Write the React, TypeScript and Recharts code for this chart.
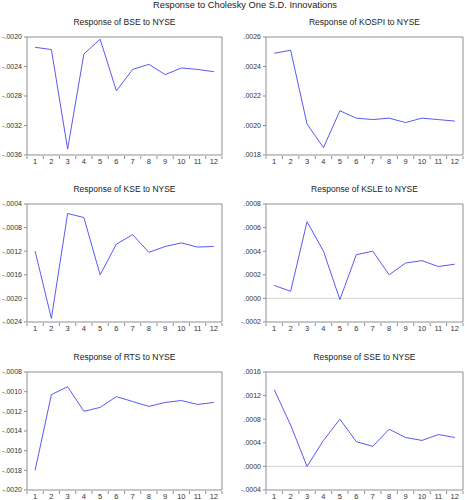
import React from "react";
import { LineChart, Line, XAxis, YAxis, ReferenceLine } from "recharts";

const periods = [1, 2, 3, 4, 5, 6, 7, 8, 9, 10, 11, 12];
const boundaryTicks = [0.5, 1.5, 2.5, 3.5, 4.5, 5.5, 6.5, 7.5, 8.5, 9.5, 10.5, 11.5, 12.5];

const bse = [-0.00214, -0.00217, -0.00352, -0.00223, -0.00203, -0.00273, -0.00244, -0.00237, -0.00251, -0.00242, -0.00244, -0.00247];
const kospi = [0.00249, 0.00251, 0.00201, 0.00185, 0.0021, 0.00205, 0.00204, 0.00205, 0.00202, 0.00205, 0.00204, 0.00203];
const kse = [-0.0012, -0.00234, -0.00056, -0.00063, -0.0016, -0.00108, -0.00092, -0.00122, -0.00112, -0.00106, -0.00113, -0.00112];
const ksle = [0.00011, 0.00006, 0.00065, 0.0004, -0.00001, 0.00037, 0.0004, 0.0002, 0.0003, 0.00032, 0.00027, 0.00029];
const rts = [-0.0018, -0.00103, -0.00095, -0.0012, -0.00116, -0.00105, -0.0011, -0.00115, -0.00111, -0.00109, -0.00113, -0.00111];
const sse = [0.0013, 0.0007, 0.0, 0.00044, 0.0008, 0.00042, 0.00034, 0.00063, 0.00049, 0.00044, 0.00054, 0.00049];

const bseTicks = [-0.0036, -0.0032, -0.0028, -0.0024, -0.002];
const kospiTicks = [0.0018, 0.002, 0.0022, 0.0024, 0.0026];
const kseTicks = [-0.0024, -0.002, -0.0016, -0.0012, -0.0008, -0.0004];
const ksleTicks = [-0.0002, 0.0, 0.0002, 0.0004, 0.0006, 0.0008];
const rtsTicks = [-0.002, -0.0018, -0.0016, -0.0014, -0.0012, -0.001, -0.0008];
const sseTicks = [-0.0004, 0.0, 0.0004, 0.0008, 0.0012, 0.0016];

const panels = [
  { title: "Response of BSE to NYSE", values: bse, ticks: bseTicks, col: 0, row: 0 },
  { title: "Response of KOSPI to NYSE", values: kospi, ticks: kospiTicks, col: 1, row: 0 },
  { title: "Response of KSE to NYSE", values: kse, ticks: kseTicks, col: 0, row: 1 },
  { title: "Response of KSLE to NYSE", values: ksle, ticks: ksleTicks, col: 1, row: 1 },
  { title: "Response of RTS to NYSE", values: rts, ticks: rtsTicks, col: 0, row: 2 },
  { title: "Response of SSE to NYSE", values: sse, ticks: sseTicks, col: 1, row: 2 },
];

// layout (page pixels); axes take 1px each, margins make up the rest
const cols = [
  { x: 0, w: 232, left: 27, right: 10 },
  { x: 232, w: 233, left: 34, right: 2 },
];
const rowTops = [37, 204, 372];
const PLOT_H = 118;
const TOP_M = 30;
const BOT_M = 14;

const AXIS = "#8f8f8f";
const LINE = "#5a5af5";
const FONT = "'Liberation Sans', Arial, sans-serif";

const fmt = (v: number) => v.toFixed(4).replace(/^(-?)0\./, "$1.");

function Panel({ p }: { p: (typeof panels)[number] }) {
  const c = cols[p.col];
  const top = rowTops[p.row] - TOP_M;
  const data = periods.map((period, i) => ({ period, value: p.values[i] }));
  const lo = p.ticks[0];
  const hi = p.ticks[p.ticks.length - 1];
  return (
    <div style={{ position: "absolute", left: c.x, top, width: c.w, height: TOP_M + PLOT_H + BOT_M }}>
      <div
        style={{
          position: "absolute",
          left: c.left,
          width: c.w - c.left - c.right,
          top: TOP_M - 20,
          textAlign: "center",
          fontSize: 8.5,
          lineHeight: "10px",
          color: "#222",
        }}
      >
        {p.title}
      </div>
      <LineChart
        width={c.w}
        height={TOP_M + PLOT_H + BOT_M}
        data={data}
        margin={{ top: TOP_M - 1, right: c.right - 1, left: c.left - 1, bottom: BOT_M - 2 }}
      >
        <XAxis
          type="number"
          dataKey="period"
          domain={[0.5, 12.5]}
          ticks={periods}
          interval={0}
          height={1}
          tickLine={false}
          tickSize={3}
          tickMargin={1}
          axisLine={{ stroke: AXIS }}
          tick={{ fontSize: 7.5, fill: "#333", fontFamily: FONT }}
        />
        <XAxis
          xAxisId="b"
          type="number"
          dataKey="period"
          domain={[0.5, 12.5]}
          ticks={boundaryTicks}
          interval={0}
          height={1}
          axisLine={false}
          tickSize={3}
          tickLine={{ stroke: AXIS }}
          tickFormatter={() => ""}
        />
        <XAxis
          xAxisId="t"
          orientation="top"
          type="number"
          domain={[0, 1]}
          height={1}
          tick={false}
          tickLine={false}
          axisLine={{ stroke: AXIS }}
        />
        <YAxis
          type="number"
          domain={[lo, hi]}
          ticks={p.ticks}
          interval={0}
          width={1}
          tickSize={3}
          tickMargin={2}
          tickFormatter={fmt}
          axisLine={{ stroke: AXIS }}
          tickLine={{ stroke: AXIS }}
          tick={{ fontSize: 7, fill: "#333", fontFamily: FONT }}
        />
        <YAxis
          yAxisId="r"
          orientation="right"
          type="number"
          domain={[0, 1]}
          width={1}
          tick={false}
          tickLine={false}
          axisLine={{ stroke: AXIS }}
        />
        <ReferenceLine y={0} stroke="#d4d4d4" strokeWidth={1} />
        <Line
          type="linear"
          dataKey="value"
          stroke={LINE}
          strokeWidth={1}
          dot={false}
          isAnimationActive={false}
        />
      </LineChart>
    </div>
  );
}

export default function App() {
  return (
    <div
      style={{
        position: "absolute",
        left: 0,
        top: 0,
        width: 465,
        height: 500,
        background: "#fff",
        fontFamily: FONT,
      }}
    >
      <div
        style={{
          position: "absolute",
          left: 27,
          width: 436,
          top: 0,
          textAlign: "center",
          fontSize: 9.3,
          lineHeight: "11px",
          color: "#222",
        }}
      >
        Response to Cholesky One S.D. Innovations
      </div>
      {panels.map((p) => (
        <Panel key={p.title} p={p} />
      ))}
    </div>
  );
}
